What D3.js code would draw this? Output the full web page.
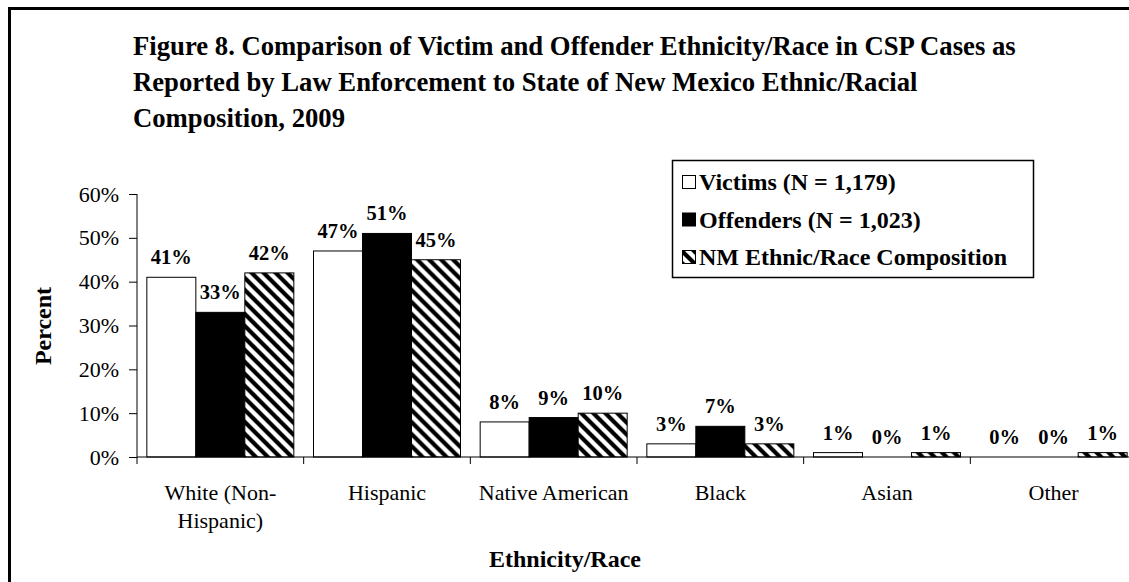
<!DOCTYPE html>
<html>
<head>
<meta charset="utf-8">
<script src="https://cdn.jsdelivr.net/npm/d3@7/dist/d3.min.js"></script>
<style>
  html, body { margin: 0; padding: 0; background: #fff; }
  svg { display: block; }
  svg text { font-family: "Liberation Serif", "Times New Roman", serif; fill: #000; }
</style>
</head>
<body>
<svg id="chart" width="1129" height="582"></svg>
<script>
const categories = ["White (Non-Hispanic)", "Hispanic", "Native American", "Black", "Asian", "Other"];
const categoryLabels = [["White (Non-", "Hispanic)"], ["Hispanic"], ["Native American"], ["Black"], ["Asian"], ["Other"]];
const seriesNames = ["Victims (N = 1,179)", "Offenders (N = 1,023)", "NM Ethnic/Race Composition"];
const victims = [41, 47, 8, 3, 1, 0];
const offenders = [33, 51, 9, 7, 0, 0];
const nmComposition = [42, 45, 10, 3, 1, 1];
const yTicks = [0, 10, 20, 30, 40, 50, 60];
const titleLines = [
  "Figure 8. Comparison of Victim and Offender Ethnicity/Race in CSP Cases as",
  "Reported by Law Enforcement to State of New Mexico Ethnic/Racial",
  "Composition, 2009"
];

const seriesValues = [victims, offenders, nmComposition];
const FONT = '"Liberation Serif", "Times New Roman", serif';
const svg = d3.select("#chart");

// hatch pattern
const defs = svg.append("defs");
const pat = defs.append("pattern").attr("id", "hatch")
  .attr("patternUnits", "userSpaceOnUse").attr("width", 12).attr("height", 12);
pat.append("rect").attr("width", 12).attr("height", 12).attr("fill", "#fff");
pat.append("path").attr("d", "M-3,-3 L15,15 M-9,3 L3,15 M9,-3 L21,9")
  .attr("stroke", "#000").attr("stroke-width", 4.2);

const fills = ["#fff", "#000", "url(#hatch)"];

// outer frame
svg.append("rect").attr("x", 9.5).attr("y", 8.5).attr("width", 1300).attr("height", 800)
  .attr("fill", "none").attr("stroke", "#000").attr("stroke-width", 3);

// title
svg.append("g").selectAll("text").data(titleLines).join("text")
  .attr("x", 133).attr("y", (d, i) => 55 + i * 36)
  .attr("font-size", 26.7).attr("font-weight", "bold").text(d => d);

const plotLeft = 137, plotRight = 1137, yZero = 457, yTop = 194;
const x0 = d3.scaleBand().domain(categories).range([plotLeft, plotRight])
  .paddingInner(0.118).paddingOuter(0.059);
const x1 = d3.scaleBand().domain(seriesNames).range([0, x0.bandwidth()]);
const y = d3.scaleLinear().domain([0, 60]).range([yZero, yTop]);

// bars
const groups = svg.append("g").selectAll("g").data(categories).join("g")
  .attr("transform", d => `translate(${x0(d)},0)`);
groups.selectAll("rect").data((c, ci) => seriesNames.map((s, si) => ({ s, si, v: seriesValues[si][ci] })))
  .join("rect")
  .attr("x", d => x1(d.s)).attr("width", x1.bandwidth())
  .attr("y", d => y(d.v)).attr("height", d => yZero - y(d.v))
  .attr("fill", d => fills[d.si]).attr("stroke", "#000").attr("stroke-width", 1);

// bar labels
groups.selectAll("text").data((c, ci) => seriesNames.map((s, si) => ({ s, si, v: seriesValues[si][ci] })))
  .join("text")
  .attr("x", d => x1(d.s) + x1.bandwidth() / 2).attr("y", d => y(d.v) - 13)
  .attr("text-anchor", "middle").attr("font-size", 20.5).attr("font-weight", "bold")
  .text(d => d.v + "%");

// y axis
const yAxis = d3.axisLeft(y).tickValues(yTicks).tickFormat(d => d + "%").tickSize(8).tickPadding(10);
const yg = svg.append("g").attr("transform", `translate(${plotLeft},0)`).call(yAxis)
  .attr("font-family", FONT).attr("font-size", 22);
yg.select(".domain").attr("d", `M0,${yTop}V${yZero}`).attr("stroke", "#000");
yg.selectAll("text").attr("fill", "#000");
yg.selectAll("line").attr("stroke", "#000");

// x axis line + boundary ticks
svg.append("line").attr("x1", plotLeft).attr("x2", plotRight).attr("y1", yZero).attr("y2", yZero)
  .attr("stroke", "#000");
const step = x0.step();
svg.append("g").selectAll("line").data(d3.range(categories.length + 1)).join("line")
  .attr("x1", i => plotLeft + i * step).attr("x2", i => plotLeft + i * step)
  .attr("y1", yZero).attr("y2", yZero + 7).attr("stroke", "#000");

// category labels
svg.append("g").selectAll("text").data(categories).join("text")
  .attr("x", d => x0(d) + x0.bandwidth() / 2).attr("y", 500)
  .attr("text-anchor", "middle").attr("font-size", 22)
  .each(function (d, i) {
    d3.select(this).selectAll("tspan").data(categoryLabels[i]).join("tspan")
      .attr("x", x0(d) + x0.bandwidth() / 2).attr("dy", (t, j) => j === 0 ? 0 : 28).text(t => t);
  });

// axis titles
svg.append("text").attr("x", 565).attr("y", 567).attr("text-anchor", "middle")
  .attr("font-size", 24).attr("font-weight", "bold").text("Ethnicity/Race");
svg.append("text").attr("transform", "translate(51,326) rotate(-90)").attr("text-anchor", "middle")
  .attr("font-size", 24).attr("font-weight", "bold").text("Percent");

// legend
const lg = svg.append("g");
lg.append("rect").attr("x", 672.5).attr("y", 160.5).attr("width", 361).attr("height", 117)
  .attr("fill", "#fff").attr("stroke", "#000").attr("stroke-width", 1.5);
const items = lg.selectAll("g.item").data(seriesNames).join("g").attr("class", "item")
  .attr("transform", (d, i) => `translate(0,${190 + i * 37.5})`);
items.append("rect").attr("x", 682.5).attr("y", -14.5).attr("width", 13).attr("height", 13)
  .attr("fill", (d, i) => fills[i]).attr("stroke", "#000").attr("stroke-width", 1);
items.append("text").attr("x", 699).attr("y", 0).attr("font-size", 24).attr("font-weight", "bold")
  .text(d => d);
</script>
</body>
</html>
